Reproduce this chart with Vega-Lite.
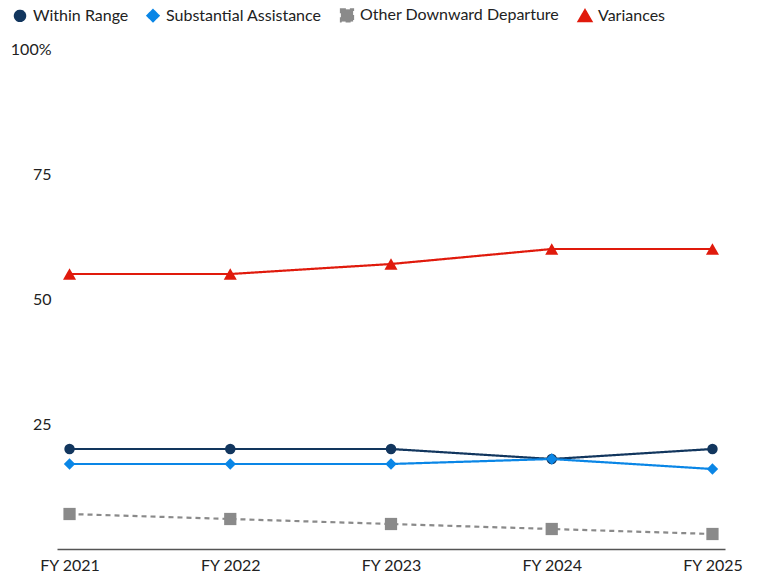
{
  "$schema": "https://vega.github.io/schema/vega-lite/v6.json",
  "width": 668,
  "height": 500,
  "autosize": "none",
  "padding": {"left": 57, "top": 49, "right": 32, "bottom": 26},
  "background": "white",
  "config": {
    "view": {"stroke": null},
    "font": "Lato",
    "axis": {"labelFont": "Lato", "labelFontSize": 16, "labelColor": "#222222", "grid": false},
    "legend": {"labelFont": "Lato", "labelFontSize": 16, "labelColor": "#222222", "labelLimit": 400}
  },
  "data": {
    "values": [
      {"year": "FY 2021", "series": "Within Range", "value": 20},
      {"year": "FY 2022", "series": "Within Range", "value": 20},
      {"year": "FY 2023", "series": "Within Range", "value": 20},
      {"year": "FY 2024", "series": "Within Range", "value": 18},
      {"year": "FY 2025", "series": "Within Range", "value": 20},
      {"year": "FY 2021", "series": "Substantial Assistance", "value": 17},
      {"year": "FY 2022", "series": "Substantial Assistance", "value": 17},
      {"year": "FY 2023", "series": "Substantial Assistance", "value": 17},
      {"year": "FY 2024", "series": "Substantial Assistance", "value": 18},
      {"year": "FY 2025", "series": "Substantial Assistance", "value": 16},
      {"year": "FY 2021", "series": "Other Downward Departure", "value": 7},
      {"year": "FY 2022", "series": "Other Downward Departure", "value": 6},
      {"year": "FY 2023", "series": "Other Downward Departure", "value": 5},
      {"year": "FY 2024", "series": "Other Downward Departure", "value": 4},
      {"year": "FY 2025", "series": "Other Downward Departure", "value": 3},
      {"year": "FY 2021", "series": "Variances", "value": 55},
      {"year": "FY 2022", "series": "Variances", "value": 55},
      {"year": "FY 2023", "series": "Variances", "value": 57},
      {"year": "FY 2024", "series": "Variances", "value": 60},
      {"year": "FY 2025", "series": "Variances", "value": 60}
    ]
  },
  "encoding": {
    "x": {
      "field": "year", "type": "ordinal",
      "scale": {"type": "point", "padding": 0.078},
      "axis": {"title": null, "labelAngle": 0, "ticks": false, "domainColor": "#555555", "domainWidth": 1.5, "labelPadding": 8}
    },
    "y": {
      "field": "value", "type": "quantitative",
      "scale": {"domain": [0, 100], "nice": false},
      "axis": {
        "title": null, "values": [0, 25, 50, 75, 100], "domain": false, "ticks": false, "labelPadding": 6,
        "labelExpr": "datum.value == 100 ? '100%' : datum.value == 0 ? '' : datum.label"
      }
    },
    "color": {
      "field": "series", "type": "nominal",
      "scale": {
        "domain": ["Within Range", "Substantial Assistance", "Other Downward Departure", "Variances"],
        "range": ["#12365e", "#0a86e6", "#8a8a8a", "#e01a0c"]
      },
      "legend": {
        "title": null, "orient": "none", "direction": "horizontal",
        "legendX": -45, "legendY": -42,
        "symbolStrokeWidth": 2, "columnPadding": 14, "labelOffset": 5
      }
    }
  },
  "layer": [
    {
      "mark": {"type": "line", "strokeWidth": 2.2},
      "encoding": {
        "strokeDash": {
          "field": "series", "type": "nominal",
          "scale": {
            "domain": ["Within Range", "Substantial Assistance", "Other Downward Departure", "Variances"],
            "range": [[1, 0], [1, 0], [5, 4], [1, 0]]
          }
        }
      }
    },
    {
      "mark": {"type": "point", "filled": true, "opacity": 1},
      "encoding": {
        "size": {
          "field": "series", "type": "nominal",
          "scale": {
            "domain": ["Within Range", "Substantial Assistance", "Other Downward Departure", "Variances"],
            "range": [110, 170, 90, 150]
          }
        },
        "shape": {
          "field": "series", "type": "nominal",
          "scale": {
            "domain": ["Within Range", "Substantial Assistance", "Other Downward Departure", "Variances"],
            "range": ["circle", "diamond", "square", "triangle-up"]
          }
        }
      }
    }
  ]
}
